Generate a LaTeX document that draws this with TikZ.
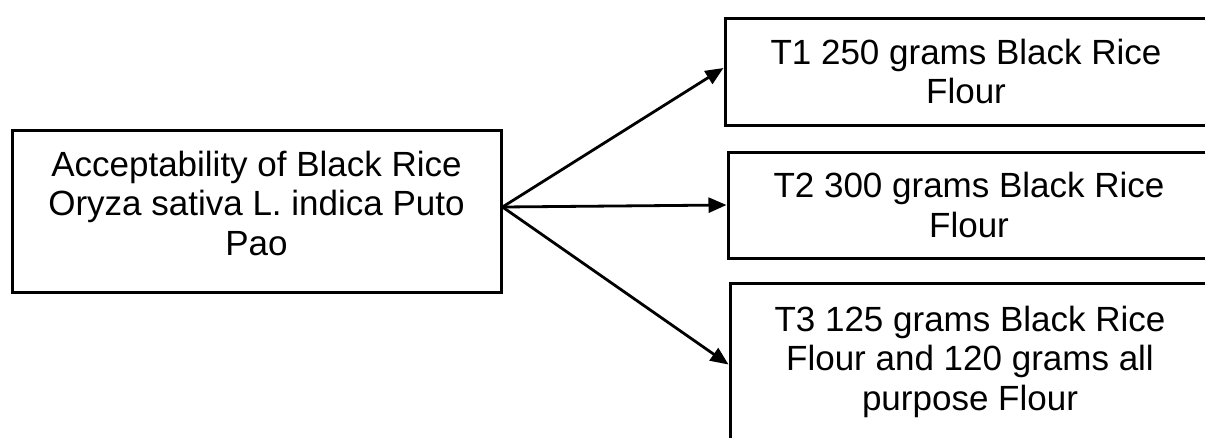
\documentclass[tikz,border=0pt]{standalone}
\usepackage{fontspec}
\setmainfont{Liberation Sans}
\usetikzlibrary{arrows.meta}
\begin{document}
\begin{tikzpicture}[x=1pt,y=-1pt,
  box/.style={draw=black,line width=3pt,align=center,inner sep=0pt,
    font=\fontsize{35}{39.5}\selectfont,text=black},
  conn/.style={line width=2.8pt,-{Triangle[length=18pt,width=15pt]}}]
\useasboundingbox (0,0) rectangle (1205,437);
\clip (0,0) rectangle (1205,437);
\node[box,minimum width=489pt,minimum height=162pt,text depth=16pt] (L) at (256.5,211)
  {Acceptability of Black Rice\\Oryza sativa L. indica Puto\\Pao};
\node[box,minimum width=482pt,minimum height=107pt] (T1) at (966,71.5)
  {T1 250 grams Black Rice\\Flour};
\node[box,minimum width=482pt,minimum height=106pt] (T2) at (969,205)
  {T2 300 grams Black Rice\\Flour};
\node[box,minimum width=480pt,minimum height=157pt] (T3) at (970,361.5)
  {T3 125 grams Black Rice\\Flour and 120 grams all\\purpose Flour};
\coordinate (s) at ([yshift=4pt]L.east);
\coordinate (e1) at ([yshift=3.5pt]T1.west);
\coordinate (e3) at ([yshift=-3pt]T3.west);
\draw[conn] (s) -- (e1);
\draw[conn] (s) -- (T2.west);
\draw[conn] (s) -- (e3);
\end{tikzpicture}
\end{document}
